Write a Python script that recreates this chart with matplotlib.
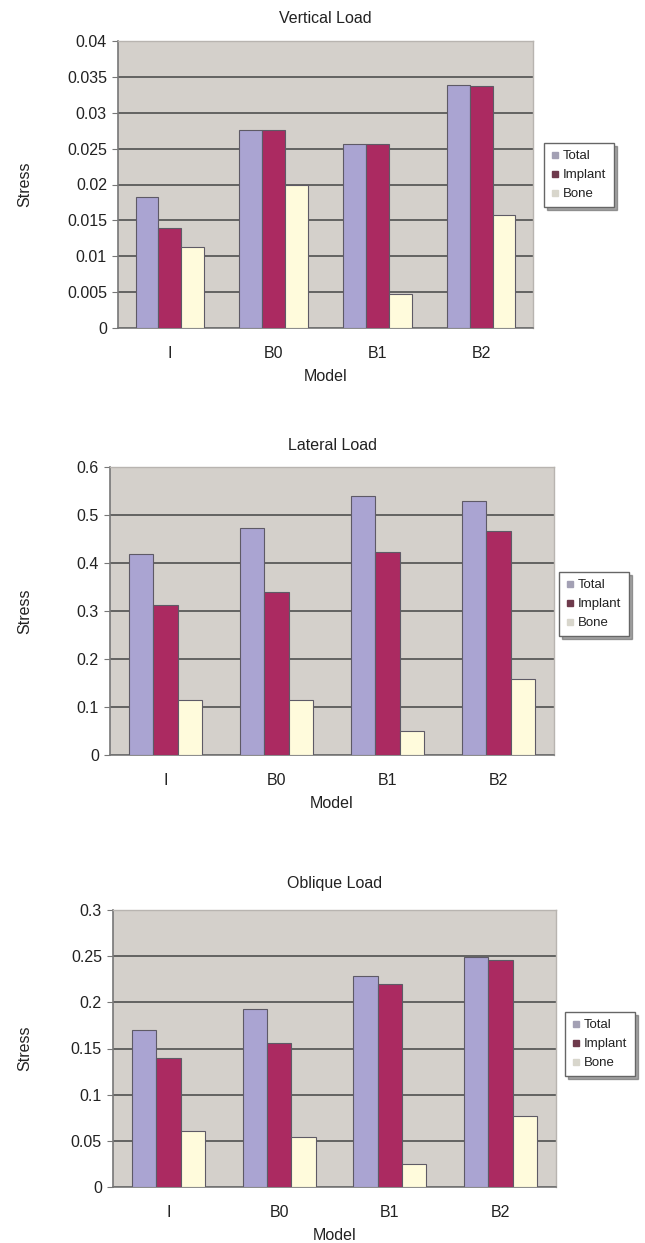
import matplotlib
matplotlib.use("Agg")
import matplotlib.pyplot as plt
import numpy as np

plt.rcParams["font.family"] = ["Liberation Sans", "DejaVu Sans"]

models = ["I", "B0", "B1", "B2"]
series_names = ["Total", "Implant", "Bone"]

vertical_total = [0.0183, 0.0276, 0.0257, 0.0339]
vertical_implant = [0.0140, 0.0276, 0.0257, 0.0337]
vertical_bone = [0.0113, 0.0200, 0.0047, 0.0158]

lateral_total = [0.418, 0.473, 0.539, 0.529]
lateral_implant = [0.312, 0.340, 0.422, 0.466]
lateral_bone = [0.115, 0.115, 0.051, 0.159]

oblique_total = [0.170, 0.193, 0.228, 0.249]
oblique_implant = [0.140, 0.156, 0.220, 0.246]
oblique_bone = [0.061, 0.054, 0.025, 0.077]

vertical_ticks = [0, 0.005, 0.01, 0.015, 0.02, 0.025, 0.03, 0.035, 0.04]
vertical_ticklabels = ["0", "0.005", "0.01", "0.015", "0.02", "0.025", "0.03", "0.035", "0.04"]
lateral_ticks = [0, 0.1, 0.2, 0.3, 0.4, 0.5, 0.6]
lateral_ticklabels = ["0", "0.1", "0.2", "0.3", "0.4", "0.5", "0.6"]
oblique_ticks = [0, 0.05, 0.1, 0.15, 0.2, 0.25, 0.3]
oblique_ticklabels = ["0", "0.05", "0.1", "0.15", "0.2", "0.25", "0.3"]

colors = ["#aaa4d2", "#ab2a61", "#fffbdc"]
legend_colors = ["#a3a0b4", "#6e3a4c", "#d8d6cc"]

W, H = 645, 1243
fig = plt.figure(figsize=(W / 100, H / 100), dpi=100)


def px_axes(left, top, right, bottom):
    return fig.add_axes([left / W, 1 - bottom / H, (right - left) / W, (bottom - top) / H])


def draw_panel(box, title, data, ticks, ticklabels, legend_box, title_pad):
    ax = px_axes(*box)
    ax.set_facecolor("#d4d0cb")
    x = np.arange(len(models))
    width = 0.22
    for k, (vals, c) in enumerate(zip(data, colors)):
        ax.bar(x + (k - 1) * width, vals, width, color=c, edgecolor="#5e5a66",
               linewidth=0.8, zorder=3)
    ax.set_xlim(-0.5, len(models) - 0.5)
    ax.set_ylim(ticks[0], ticks[-1])
    ax.set_yticks(ticks)
    ax.set_yticklabels(ticklabels, fontsize=11.5, color="#222222")
    ax.set_xticks(x)
    ax.set_xticklabels(models, fontsize=11.5, color="#222222")
    ax.tick_params(axis="x", length=0, pad=13)
    ax.tick_params(axis="y", length=4, color="#777777", pad=4)
    ax.yaxis.grid(True, color="#5a5a5a", linewidth=1.3, zorder=1)
    for s in ["top", "right"]:
        ax.spines[s].set_color("#b8b4b0")
        ax.spines[s].set_linewidth(1.0)
    for s in ["left", "bottom"]:
        ax.spines[s].set_color("#777777")
        ax.spines[s].set_linewidth(1.2)
    ax.set_title(title, fontsize=11.5, color="#222222", pad=title_pad)
    ax.set_xlabel("Model", fontsize=11.5, color="#222222", labelpad=6)
    yc = (box[1] + box[3]) / 2
    fig.text(25 / W, 1 - yc / H, "Stress", rotation=90, ha="center", va="center",
             fontsize=11.5, color="#222222")

    handles = [plt.Line2D([], [], marker="s", linestyle="", markersize=5,
                          markerfacecolor=c, markeredgecolor=c) for c in legend_colors]
    leg = fig.legend(handles, series_names, loc="upper left",
                     bbox_to_anchor=(legend_box[0] / W, 1 - legend_box[1] / H),
                     fontsize=9.5, frameon=True, fancybox=False, shadow=True,
                     handlelength=0.6, handletextpad=0.3, labelspacing=0.5,
                     borderpad=0.55, borderaxespad=0.0)
    leg.get_frame().set_edgecolor("#666666")
    leg.get_frame().set_linewidth(1.0)
    for t in leg.get_texts():
        t.set_color("#222222")
    return ax


draw_panel((118, 41, 533, 328), "Vertical Load",
           [vertical_total, vertical_implant, vertical_bone],
           vertical_ticks, vertical_ticklabels, (544, 143), 13)
draw_panel((110, 467, 554, 755), "Lateral Load",
           [lateral_total, lateral_implant, lateral_bone],
           lateral_ticks, lateral_ticklabels, (559, 572), 12)
draw_panel((113, 910, 556, 1187), "Oblique Load",
           [oblique_total, oblique_implant, oblique_bone],
           oblique_ticks, oblique_ticklabels, (565, 1012), 16)

fig.savefig("out.png", dpi=100, facecolor="white")
